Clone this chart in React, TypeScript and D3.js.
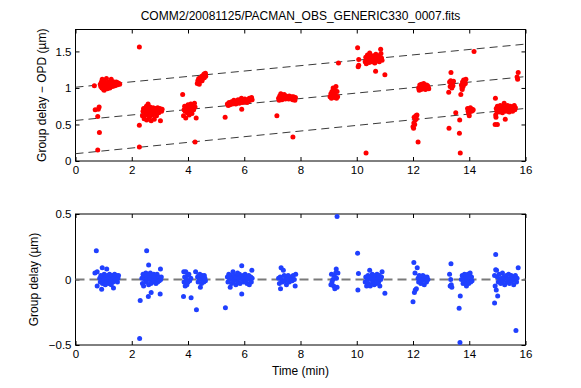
import React, { useEffect, useRef } from 'react'
import * as d3 from 'd3'

const title = 'COMM2/20081125/PACMAN_OBS_GENERIC330_0007.fits'
const timeTicks = [0, 2, 4, 6, 8, 10, 12, 14, 16]
const opdTicks = [0, 0.5, 1, 1.5]
const residualTicks = [-0.5, 0, 0.5]
// the three fringe branches: value at t=0 and at t=16 min
const branchStart = [0.1, 0.555, 1.01]
const branchEnd = [0.72, 1.155, 1.6]

// [time (min), group delay - OPD (um)]
const opdPoints: [number, number][] = [
  [0.67, 1.03], [0.7, 0.7], [0.81, 0.71], [0.84, 0.74], [0.79, 0.61], [0.85, 0.39], [0.79, 0.15],
  [0.88, 1.05], [0.9, 1.02], [0.92, 1.08], [0.94, 1.0], [0.95, 1.12], [0.97, 1.04], [0.99, 1.06], [1.0, 0.98],
  [1.02, 1.1], [1.03, 1.03], [1.05, 1.07], [1.06, 1.01], [1.08, 1.05], [1.1, 1.13], [1.11, 1.04], [1.13, 0.99],
  [1.15, 1.06], [1.16, 1.02], [1.18, 1.08], [1.2, 1.04], [1.22, 1.0], [1.23, 1.07], [1.25, 1.05], [1.27, 1.03],
  [1.28, 1.09], [1.3, 1.06], [1.32, 1.02], [1.33, 1.07], [1.35, 1.04], [1.37, 1.08], [1.38, 1.05], [1.4, 1.03],
  [1.42, 1.07], [1.44, 1.05], [1.45, 1.08], [1.47, 1.04], [1.49, 1.06], [1.5, 1.07], [1.52, 1.05], [1.55, 1.06],
  [1.57, 1.05], [1.27, 1.12], [1.02, 0.97],
  [2.27, 1.56], [2.27, 0.49], [2.27, 0.19],
  [2.38, 0.62], [2.4, 0.68], [2.42, 0.72], [2.44, 0.58], [2.45, 0.65], [2.47, 0.7], [2.5, 0.63], [2.52, 0.75],
  [2.53, 0.56], [2.55, 0.68], [2.57, 0.72], [2.58, 0.78], [2.6, 0.64], [2.62, 0.7], [2.63, 0.6], [2.65, 0.74],
  [2.67, 0.66], [2.69, 0.55], [2.7, 0.71], [2.72, 0.68], [2.74, 0.63], [2.76, 0.73], [2.78, 0.69], [2.8, 0.57],
  [2.82, 0.66], [2.84, 0.72], [2.86, 0.7], [2.88, 0.62], [2.9, 0.68], [2.92, 0.73], [2.94, 0.71], [2.96, 0.66],
  [2.98, 0.69], [3.0, 0.72], [3.02, 0.55], [3.04, 0.7], [3.06, 0.68], [3.08, 0.71],
  [3.81, 0.91], [3.84, 0.62], [3.86, 0.7], [3.88, 0.75], [3.9, 0.68], [3.92, 0.59], [3.95, 0.72], [3.97, 0.66],
  [4.0, 0.77], [4.02, 0.7], [4.04, 0.63], [4.06, 0.74], [4.08, 0.68], [4.1, 0.78], [4.12, 0.72], [4.14, 0.65],
  [4.17, 0.74], [4.2, 0.7], [4.23, 0.79], [4.25, 0.74], [4.29, 0.59], [4.25, 0.26],
  [4.33, 1.06], [4.35, 1.1], [4.37, 1.08], [4.38, 1.13], [4.4, 1.05], [4.42, 1.11], [4.44, 1.09], [4.45, 1.14],
  [4.47, 1.12], [4.49, 1.16], [4.5, 1.1], [4.52, 1.13], [4.54, 1.17], [4.55, 1.15], [4.57, 1.19], [4.58, 1.14],
  [4.6, 1.18], [4.62, 1.2], [4.63, 1.16],
  [5.32, 0.6], [5.91, 0.71],
  [5.4, 0.78], [5.43, 0.76], [5.46, 0.8], [5.49, 0.77], [5.52, 0.79], [5.55, 0.81], [5.58, 0.78], [5.6, 0.8],
  [5.63, 0.83], [5.65, 0.79], [5.68, 0.81], [5.7, 0.78], [5.72, 0.82], [5.75, 0.8], [5.78, 0.84], [5.8, 0.81],
  [5.82, 0.79], [5.85, 0.83], [5.87, 0.8], [5.9, 0.86], [5.92, 0.82], [5.95, 0.8], [5.97, 0.84], [6.0, 0.82],
  [6.02, 0.85], [6.05, 0.81], [6.08, 0.83], [6.1, 0.8], [6.13, 0.84], [6.15, 0.82], [6.18, 0.86], [6.2, 0.83],
  [6.23, 0.85], [6.26, 0.87], [6.28, 0.84],
  [7.16, 0.62], [7.73, 0.33],
  [7.22, 0.86], [7.24, 0.83], [7.26, 0.89], [7.28, 0.85], [7.3, 0.92], [7.32, 0.87], [7.34, 0.84], [7.36, 0.9],
  [7.38, 0.88], [7.4, 0.86], [7.42, 0.91], [7.44, 0.87], [7.46, 0.85], [7.48, 0.89], [7.5, 0.87], [7.53, 0.86],
  [7.56, 0.88], [7.58, 0.85], [7.6, 0.89], [7.63, 0.87], [7.66, 0.86], [7.69, 0.88], [7.72, 0.84], [7.75, 0.88],
  [7.78, 0.86], [7.8, 0.83], [7.82, 0.87],
  [9.35, 1.34], [9.05, 0.88], [9.08, 0.92], [9.1, 0.86], [9.12, 0.95], [9.14, 0.89], [9.16, 1.0], [9.18, 0.93],
  [9.2, 0.87], [9.22, 0.97], [9.24, 0.9], [9.26, 1.02], [9.28, 0.86], [9.3, 0.95], [9.32, 0.88],
  [10.03, 1.55], [10.07, 1.39], [10.05, 1.29], [10.07, 1.31], [10.33, 0.11], [10.67, 1.23], [11.0, 1.18], [10.85, 1.53],
  [10.3, 1.36], [10.32, 1.42], [10.34, 1.33], [10.36, 1.39], [10.38, 1.45], [10.4, 1.37], [10.42, 1.41], [10.44, 1.35],
  [10.46, 1.48], [10.48, 1.4], [10.5, 1.38], [10.52, 1.43], [10.54, 1.36], [10.56, 1.4], [10.58, 1.44], [10.6, 1.37],
  [10.62, 1.41], [10.64, 1.34], [10.66, 1.39], [10.68, 1.46], [10.7, 1.42], [10.72, 1.38], [10.74, 1.41], [10.76, 1.44],
  [10.78, 1.39], [10.8, 1.36], [10.82, 1.42], [10.84, 1.4], [10.86, 1.47], [10.88, 1.41], [10.9, 1.38],
  [12.0, 0.47], [12.02, 0.45], [12.04, 0.6], [12.06, 0.5], [12.08, 0.56], [12.1, 0.62], [12.12, 0.58], [12.14, 0.63],
  [12.18, 0.26], [12.03, 0.52],
  [12.2, 1.0], [12.22, 0.97], [12.24, 1.04], [12.26, 1.01], [12.28, 0.98], [12.3, 1.05], [12.32, 1.02], [12.34, 0.99],
  [12.36, 1.03], [12.38, 1.06], [12.4, 1.0], [12.42, 1.03], [12.44, 0.98], [12.46, 1.02], [12.48, 1.04], [12.5, 1.0],
  [12.52, 1.03], [12.54, 1.01], [12.56, 0.99],
  [13.35, 1.21], [13.27, 0.94], [13.28, 0.45], [13.52, 0.66], [13.66, 0.56], [13.65, 0.38], [13.68, 0.11], [13.7, 0.91],
  [14.17, 1.5],
  [13.3, 1.08], [13.32, 1.02], [13.34, 1.1], [13.36, 1.04], [13.38, 1.0], [13.4, 1.07], [13.42, 1.03], [13.44, 1.09],
  [13.72, 1.04], [13.74, 1.0], [13.76, 1.08], [13.78, 1.02], [13.8, 1.11], [13.82, 1.05], [13.84, 1.09], [13.86, 1.06],
  [13.88, 1.12], [13.75, 0.98],
  [13.94, 0.72], [13.96, 0.68], [13.98, 0.65], [14.0, 0.71], [14.02, 0.69], [14.04, 0.73], [14.06, 0.7], [14.08, 0.68],
  [14.1, 0.71], [14.12, 0.69], [14.14, 0.7], [14.0, 0.62],
  [14.93, 0.86], [14.92, 0.5], [15.0, 0.5], [14.95, 0.6], [14.94, 0.63], [15.28, 0.57], [15.74, 1.21], [15.7, 1.15],
  [15.72, 1.12],
  [14.96, 0.72], [14.98, 0.68], [15.0, 0.75], [15.02, 0.7], [15.04, 0.73], [15.06, 0.67], [15.08, 0.71], [15.1, 0.76],
  [15.12, 0.69], [15.14, 0.73], [15.16, 0.71], [15.18, 0.66], [15.2, 0.74], [15.22, 0.7], [15.24, 0.79], [15.26, 0.72],
  [15.3, 0.68], [15.32, 0.74], [15.34, 0.71], [15.36, 0.76], [15.38, 0.7], [15.4, 0.73], [15.42, 0.67], [15.44, 0.72],
  [15.46, 0.75], [15.48, 0.7], [15.5, 0.73], [15.52, 0.71], [15.54, 0.68], [15.56, 0.74], [15.58, 0.72], [15.6, 0.76],
  [15.62, 0.7], [15.64, 0.73],
]

// [time (min), group delay residual (um)]
const residualPoints: [number, number][] = [
  [0.74, 0.22], [0.69, 0.05], [0.77, 0.06], [0.95, 0.09], [1.11, 0.08], [0.77, -0.05], [0.93, -0.075], [1.35, -0.065],
  [0.86, 0.01], [0.88, -0.02], [0.9, 0.03], [0.92, 0.0], [0.96, -0.03], [0.98, 0.02], [1.0, -0.01], [1.02, 0.04],
  [1.04, 0.0], [1.06, -0.04], [1.08, 0.02], [1.1, -0.02], [1.13, 0.03], [1.15, 0.0], [1.17, -0.03], [1.19, 0.01],
  [1.21, 0.04], [1.23, -0.01], [1.25, 0.02], [1.27, -0.04], [1.29, 0.0], [1.31, 0.03], [1.33, -0.02], [1.37, 0.01],
  [1.39, 0.04], [1.41, -0.01], [1.43, 0.02], [1.45, 0.0], [1.47, 0.03], [1.49, -0.02], [1.51, 0.01], [1.53, 0.03],
  [2.53, 0.22], [2.3, -0.16], [2.28, -0.45], [2.6, 0.11], [2.59, -0.13], [2.69, -0.1], [3.01, -0.11], [3.02, 0.08],
  [2.36, 0.01], [2.38, -0.03], [2.4, 0.04], [2.42, -0.05], [2.44, 0.02], [2.46, 0.0], [2.5, 0.05], [2.52, -0.02],
  [2.55, 0.01], [2.57, 0.04], [2.6, -0.04], [2.62, 0.02], [2.64, 0.0], [2.66, 0.05], [2.68, -0.03], [2.7, 0.01],
  [2.72, 0.03], [2.74, -0.02], [2.76, 0.0], [2.78, 0.04], [2.8, -0.01], [2.83, 0.02], [2.86, -0.03], [2.88, 0.01],
  [2.9, 0.04], [2.92, -0.02], [2.94, 0.0], [2.96, 0.02], [2.98, -0.01], [3.03, 0.0], [3.05, 0.02],
  [3.84, -0.13], [4.11, -0.14], [4.3, -0.23], [3.85, 0.06], [3.92, 0.06], [4.27, 0.06], [4.44, -0.06],
  [3.86, -0.02], [3.88, 0.02], [3.9, -0.05], [3.94, 0.0], [3.96, -0.04], [3.98, 0.03], [4.0, -0.02], [4.03, 0.04],
  [4.06, -0.01], [4.1, 0.01], [4.34, 0.02], [4.36, -0.02], [4.38, 0.03], [4.4, 0.0], [4.42, 0.04], [4.46, 0.01],
  [4.48, -0.03], [4.5, 0.03], [4.52, 0.0], [4.54, 0.02], [4.56, -0.02], [4.58, 0.03], [4.6, 0.01], [4.62, -0.01],
  [5.33, -0.215], [5.91, 0.105], [5.91, -0.11], [6.27, 0.07], [5.5, -0.06],
  [5.4, 0.02], [5.42, -0.02], [5.45, 0.04], [5.48, 0.0], [5.52, 0.03], [5.55, -0.03], [5.58, 0.01], [5.6, 0.06],
  [5.63, -0.01], [5.66, 0.03], [5.68, 0.0], [5.7, -0.04], [5.73, 0.02], [5.76, 0.05], [5.78, -0.02], [5.8, 0.01],
  [5.83, 0.04], [5.85, -0.03], [5.88, 0.02], [5.93, 0.0], [5.96, 0.03], [5.98, -0.02], [6.0, 0.01], [6.03, 0.04],
  [6.06, -0.01], [6.08, 0.02], [6.1, -0.03], [6.13, 0.01], [6.16, 0.03], [6.18, -0.04], [6.2, 0.0], [6.23, 0.02],
  [6.25, -0.02], [6.28, 0.01],
  [7.31, 0.09], [7.39, 0.07], [7.29, -0.07], [7.81, -0.05], [7.83, 0.04],
  [7.22, 0.01], [7.25, -0.03], [7.28, 0.02], [7.33, 0.0], [7.36, -0.02], [7.42, 0.03], [7.45, -0.01], [7.48, 0.02],
  [7.5, -0.04], [7.53, 0.01], [7.56, 0.03], [7.6, -0.02], [7.63, 0.0], [7.66, 0.02], [7.7, -0.01], [7.74, 0.03],
  [7.78, 0.0],
  [9.3, 0.48], [9.27, 0.08], [9.1, 0.04], [9.12, -0.02], [9.15, 0.0], [9.18, -0.05], [9.2, 0.03], [9.22, -0.07],
  [9.25, 0.05], [9.28, 0.01], [9.3, -0.06], [9.33, 0.05], [9.08, -0.04],
  [10.03, 0.2], [10.06, 0.045], [10.04, -0.08], [11.0, -0.105], [10.46, 0.07], [10.9, 0.06],
  [10.3, -0.02], [10.32, 0.02], [10.35, -0.05], [10.37, 0.0], [10.4, 0.03], [10.42, -0.03], [10.45, 0.01], [10.48, -0.05],
  [10.5, 0.02], [10.52, 0.0], [10.55, 0.04], [10.57, -0.02], [10.6, 0.01], [10.62, -0.04], [10.65, 0.03], [10.67, 0.0],
  [10.7, -0.03], [10.72, 0.04], [10.75, 0.01], [10.78, -0.02], [10.8, 0.03], [10.82, -0.05], [10.85, 0.0], [10.88, 0.02],
  [12.03, 0.13], [12.07, 0.05], [12.15, 0.09], [12.0, -0.17], [12.05, -0.1], [12.08, -0.08], [12.12, -0.07],
  [12.18, 0.01], [12.2, -0.02], [12.22, 0.03], [12.25, 0.0], [12.28, -0.03], [12.3, 0.02], [12.32, -0.01], [12.35, 0.03],
  [12.38, 0.0], [12.4, -0.04], [12.42, 0.02], [12.45, 0.01], [12.48, -0.02], [12.5, 0.02], [12.53, 0.0],
  [13.35, 0.12], [13.3, 0.04], [13.68, -0.125], [13.64, -0.22], [13.67, -0.48], [13.32, -0.05], [13.36, -0.04],
  [13.34, 0.0], [13.38, -0.06],
  [13.72, 0.0], [13.75, 0.03], [13.78, -0.03], [13.8, 0.01], [13.83, 0.04], [13.85, -0.02], [13.88, 0.02], [13.9, -0.05],
  [13.93, 0.0], [13.95, 0.04], [13.98, -0.03], [14.0, 0.01], [14.03, 0.05], [14.05, -0.02], [14.08, 0.02], [14.1, -0.01],
  [14.94, 0.19], [14.94, 0.075], [14.97, 0.07], [14.9, 0.03], [14.92, -0.05], [14.96, -0.08], [15.01, -0.125],
  [14.9, -0.18], [15.66, -0.39], [15.74, 0.09],
  [15.0, 0.02], [15.03, -0.02], [15.06, 0.04], [15.09, 0.0], [15.12, -0.03], [15.15, 0.01], [15.18, 0.05], [15.2, -0.01],
  [15.23, 0.02], [15.26, -0.04], [15.29, 0.01], [15.32, 0.03], [15.35, -0.02], [15.38, 0.0], [15.4, 0.04], [15.43, -0.03],
  [15.46, 0.01], [15.49, 0.03], [15.52, -0.01], [15.55, 0.02], [15.58, -0.04], [15.61, 0.0], [15.64, 0.03], [15.68, -0.02],
  [15.7, 0.01],
]

const W = 581
const H = 388
const left = 75.5
const right = 525.5
const font = '"Liberation Sans", Arial, Helvetica, sans-serif'

const fmt = (d: number) => String(d).replace('-', '\u2212')

export default function App() {
  const ref = useRef<SVGSVGElement>(null)

  useEffect(() => {
    const svg = d3.select(ref.current)
    svg.selectAll('*').remove()

    const x = d3.scaleLinear().domain([0, 16]).range([left, right])

    const drawPanel = (top: number, bottom: number, domain: [number, number], yTicks: number[],
      points: [number, number][], colour: string, label: string, labelX: number) => {
      const y = d3.scaleLinear().domain(domain).range([bottom, top])
      const g = svg.append('g')

      // inward ticks on all four sides
      const bx = g.append('g').attr('transform', `translate(0,${bottom})`)
        .call(d3.axisBottom(x).tickValues(timeTicks).tickSize(-4).tickPadding(5).tickFormat(d => fmt(+d)))
      g.append('g').attr('transform', `translate(0,${top})`)
        .call(d3.axisTop(x).tickValues(timeTicks).tickSize(-4).tickFormat(() => ''))
      const ly = g.append('g').attr('transform', `translate(${left},0)`)
        .call(d3.axisLeft(y).tickValues(yTicks).tickSize(-4).tickPadding(4).tickFormat(d => fmt(+d)))
      g.append('g').attr('transform', `translate(${right},0)`)
        .call(d3.axisRight(y).tickValues(yTicks).tickSize(-4).tickFormat(() => ''))
      g.selectAll('.domain').remove()
      g.selectAll('.tick line').attr('stroke', '#000')
      bx.selectAll('text').attr('font-family', font).attr('font-size', 11.5).attr('fill', '#000')
      ly.selectAll('text').attr('font-family', font).attr('font-size', 11.5).attr('fill', '#000')

      g.append('rect')
        .attr('x', left).attr('y', top)
        .attr('width', right - left).attr('height', bottom - top)
        .attr('fill', 'none').attr('stroke', '#000').attr('stroke-width', 1)

      g.append('text')
        .attr('transform', `translate(${labelX},${(top + bottom) / 2}) rotate(-90)`)
        .attr('text-anchor', 'middle')
        .attr('font-family', font).attr('font-size', 12)
        .text(label)

      return { g, y }
    }

    const upper = drawPanel(29.5, 161, [0, 1.8], opdTicks, opdPoints, '#ff0000',
      'Group delay \u2212 OPD (\u00b5m)', 45.5)

    // branch lines
    branchStart.forEach((v, i) => {
      upper.g.append('line')
        .attr('x1', x(0)).attr('y1', upper.y(v))
        .attr('x2', x(16)).attr('y2', upper.y(branchEnd[i]))
        .attr('stroke', '#3a3a3a').attr('stroke-width', 1)
        .attr('stroke-dasharray', '8,5')
    })
    upper.g.selectAll('circle.opd')
      .data(opdPoints)
      .enter()
      .append('circle')
        .attr('class', 'opd')
        .attr('cx', d => x(d[0]))
        .attr('cy', d => upper.y(d[1]))
        .attr('r', 2.5)
        .attr('fill', '#ff0000')

    const lower = drawPanel(214, 345, [-0.5, 0.5], residualTicks, residualPoints, '#2040ff',
      'Group delay (\u00b5m)', 37.5)

    lower.g.append('line')
      .attr('x1', x(0)).attr('y1', lower.y(0))
      .attr('x2', x(16)).attr('y2', lower.y(0))
      .attr('stroke', '#7a7a7a').attr('stroke-width', 2)
      .attr('stroke-dasharray', '9,5')
    lower.g.selectAll('circle.res')
      .data(residualPoints)
      .enter()
      .append('circle')
        .attr('class', 'res')
        .attr('cx', d => x(d[0]))
        .attr('cy', d => lower.y(d[1]))
        .attr('r', 2.5)
        .attr('fill', '#2040ff')

    svg.append('text')
      .attr('x', (left + right) / 2).attr('y', 20)
      .attr('text-anchor', 'middle')
      .attr('font-family', font).attr('font-size', 12)
      .text(title)

    svg.append('text')
      .attr('x', (left + right) / 2).attr('y', 374.5)
      .attr('text-anchor', 'middle')
      .attr('font-family', font).attr('font-size', 12)
      .text('Time (min)')
  }, [])

  return (
    <svg ref={ref} width={W} height={H}
      style={{ position: 'absolute', left: 0, top: 0, background: '#fff' }} />
  )
}
